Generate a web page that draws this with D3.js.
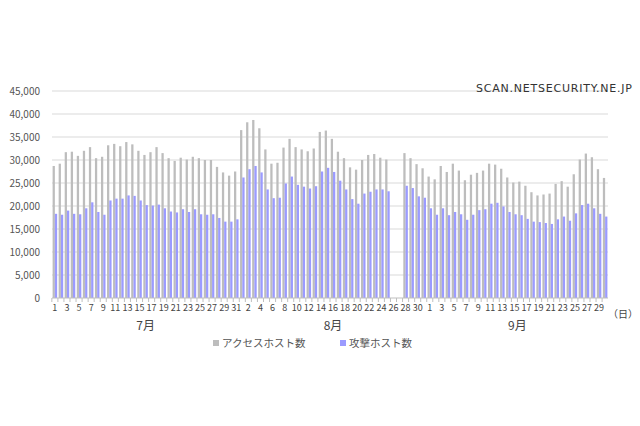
<!DOCTYPE html>
<html><head><meta charset="utf-8">
<script src="https://cdn.jsdelivr.net/npm/d3@7"></script>
<style>body{margin:0;background:#fff;font-family:"Noto Sans CJK JP","Noto Sans",sans-serif}</style>
</head><body><svg id="c" width="640" height="426"></svg>
<script>
const julyAccess=[28700,29200,31700,31800,30900,32000,32800,30400,30700,33200,33500,33000,33900,33400,32000,31100,31700,32800,31500,30400,29800,30500,30100,30700,30400,30000,30000,28500,27300,26600,27500];
const julyAttack=[18300,18100,19000,18300,18200,19500,20800,18700,18100,21200,21600,21600,22300,22200,21200,20200,20100,20300,19500,18800,18600,19300,18700,19300,18200,18100,18200,17400,16600,16600,17100];
const augAccess=[36500,38200,38700,36900,32300,29200,29400,32700,34600,32800,32300,31900,32500,36100,36400,34600,31800,30400,28400,27900,30000,31100,31300,30500,30100,null,null,31500,30400,29100,28200];
const augAttack=[26200,28000,28700,27300,23600,21700,21800,24900,26400,24600,24200,23800,24300,27500,28300,27400,25500,23600,21500,20500,22700,23100,23600,23600,23200,null,null,24400,23900,22100,21800];
const sepAccess=[26400,25800,28700,27400,29200,27700,25600,26800,27200,27700,29200,29000,28100,26200,25100,25300,24400,23000,22300,22500,22700,24800,25400,24200,26900,30100,31400,30600,28000,26100];
const sepAttack=[19500,18100,19500,18000,18700,18200,17000,18100,19100,19300,20500,20700,19900,18700,18200,18000,17200,16600,16500,16300,16100,17100,17700,16800,18400,20200,20500,19500,18300,17700];
const months=[{name:"7月",days:31},{name:"8月",days:31},{name:"9月",days:30}];
const yTicks=[0,5000,10000,15000,20000,25000,30000,35000,40000,45000];
const seriesNames=["アクセスホスト数","攻撃ホスト数"];
const colors=["#bdbdbd","#9b9bff"];

const data=[];
[[julyAccess,julyAttack],[augAccess,augAttack],[sepAccess,sepAttack]].forEach(([a,b],m)=>{
  a.forEach((v,i)=>data.push({key:m+"-"+(i+1),day:i+1,month:m,access:v,attack:b[i]}));
});
const svg=d3.select("#c");
const L=52,R=608,T=91,B=298;
const x=d3.scaleBand().domain(data.map(d=>d.key)).range([L,R]).paddingInner(0.25).paddingOuter(0.1);
const y=d3.scaleLinear().domain([0,45000]).range([B,T]);
svg.append("g").selectAll("line").data(yTicks.slice(1)).join("line")
 .attr("x1",L).attr("x2",R).attr("y1",d=>y(d)).attr("y2",d=>y(d)).attr("stroke","#d9d9d9");
svg.append("g").selectAll("text").data(yTicks).join("text")
 .attr("x",40).attr("y",d=>y(d)+3.5).attr("text-anchor","end").attr("font-size",10).attr("fill","#555")
 .text(d=>d3.format(",")(d));
const bw=x.bandwidth()/2;
svg.append("g").selectAll("rect").data(data.filter(d=>d.access!=null)).join("rect")
 .attr("x",d=>x(d.key)).attr("width",bw).attr("y",d=>y(d.access)).attr("height",d=>B-y(d.access)).attr("fill",colors[0]);
svg.append("g").selectAll("rect").data(data.filter(d=>d.attack!=null)).join("rect")
 .attr("x",d=>x(d.key)+bw).attr("width",bw).attr("y",d=>y(d.attack)).attr("height",d=>B-y(d.attack)).attr("fill",colors[1]);
svg.append("line").attr("x1",L).attr("x2",R).attr("y1",B).attr("y2",B).attr("stroke","#bfbfbf");
const step=x.step();
svg.append("g").selectAll("line").data(data).join("line")
 .attr("x1",d=>x(d.key)-step*0.125).attr("x2",d=>x(d.key)-step*0.125).attr("y1",B).attr("y2",B+4).attr("stroke","#bfbfbf");
svg.append("g").selectAll("text").data(data.filter((d,i)=>i%2==0)).join("text")
 .attr("x",d=>x(d.key)+x.bandwidth()/2).attr("y",B+13).attr("text-anchor","middle").attr("font-size",9).attr("fill","#444")
 .text(d=>d.day);
let start=0;
months.forEach(m=>{
  const k0=data[start].key,k1=data[start+m.days-1].key;
  const cx=(x(k0)+x(k1)+x.bandwidth())/2;
  svg.append("text").attr("x",cx).attr("y",330).attr("text-anchor","middle").attr("font-size",12).attr("fill","#444").text(m.name);
  start+=m.days;
});
svg.append("text").attr("x",638).attr("y",318).attr("text-anchor","end").attr("font-size",10).attr("fill","#444").text("（日）");
const lg=[[213,seriesNames[0]],[340,seriesNames[1]]];
lg.forEach(([lx,t],i)=>{
  svg.append("rect").attr("x",lx).attr("y",340).attr("width",6).attr("height",6).attr("fill",colors[i]);
  svg.append("text").attr("x",lx+9).attr("y",347).attr("font-size",10.5).attr("fill","#555").text(t);
});
svg.append("text").attr("x",632).attr("y",92).attr("text-anchor","end").attr("font-size",11).attr("fill","#333")
 .attr("font-family","DejaVu Sans").attr("textLength",156).text("SCAN.NETSECURITY.NE.JP");
</script></body></html>
